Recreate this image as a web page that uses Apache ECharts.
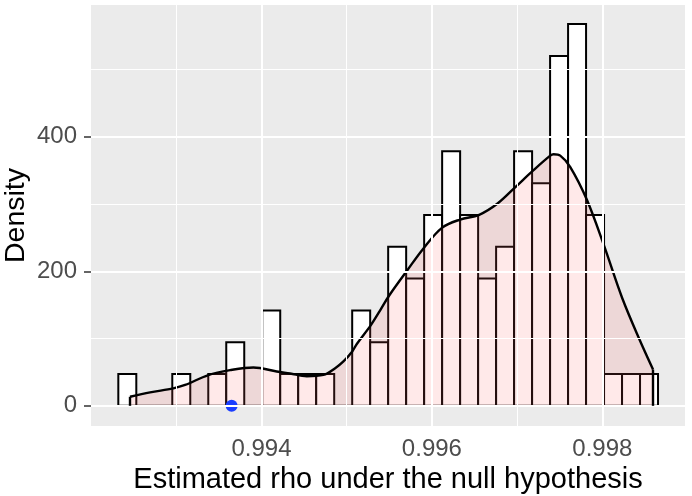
<!DOCTYPE html>
<html>
<head>
<meta charset="utf-8">
<script src="https://cdn.jsdelivr.net/npm/echarts@6/dist/echarts.min.js"></script>
<style>
  html, body { margin: 0; padding: 0; background: #ffffff; }
  #chart { width: 692px; height: 496px; }
</style>
</head>
<body>
<div id="chart"></div>
<script>
// ---- data ----
const xTicks = [0.994, 0.996, 0.998];
const xTickLabels = ['0.994', '0.996', '0.998'];
const xMinorGrid = [0.993, 0.995, 0.997];
const yTicks = [0, 200, 400];
const yTickLabels = ['0', '200', '400'];
const yMinorGrid = [100, 300, 500];

// histogram: 30 equal bins
const binStart = 0.9923205;
const binWidth = 0.0002111;
const histDensity = [47.3, 0, 0, 47.3, 0, 47.3, 94.6, 0, 141.9, 47.3,
                     47.3, 47.3, 0, 141.9, 94.6, 236.5, 189.2, 283.8, 378.4, 283.8,
                     189.2, 236.5, 378.4, 331.1, 520.3, 567.6, 283.8, 47.3, 47.3, 47.3];

// kernel density curve
const densX = [0.992458, 0.992693, 0.992966, 0.993104, 0.993377, 0.993632, 0.993905, 0.994180,
               0.994336, 0.994532, 0.994727, 0.994865, 0.994962, 0.995061, 0.995119, 0.995284,
               0.995393, 0.995499, 0.995714, 0.995901, 0.996121, 0.996332, 0.996555, 0.996763,
               0.996970, 0.997189, 0.997389, 0.997428, 0.997506, 0.997624, 0.997820, 0.998023,
               0.998234, 0.998445, 0.998595];
const densY = [13.5, 20, 26, 31, 45.8, 53, 57, 51,
               48, 44, 46, 56, 66, 80, 92, 120,
               142, 164, 202, 234, 265, 277, 284, 300,
               324, 350, 372, 374, 372, 355, 306, 237,
               160, 96, 54];

// observed value
const observedX = [0.99365];
const observedY = [0];

const xMin = 0.992, xMax = 0.99897;
const yMin = -30, yMax = 596;

// ---- build ----
const histData = histDensity.map((d, i) => [binStart + i * binWidth, binStart + (i + 1) * binWidth, d]);
const densData = densX.map((x, i) => [x, densY[i]]);
const obsData = observedX.map((x, i) => [x, observedY[i]]);

function vLine(v, w) { return [{ coord: [v, yMin], lineStyle: { width: w } }, { coord: [v, yMax] }]; }
function hLine(v, w) { return [{ coord: [xMin, v], lineStyle: { width: w } }, { coord: [xMax, v] }]; }
const gridLines = []
  .concat(xMinorGrid.map(v => vLine(v, 1)))
  .concat(yMinorGrid.map(v => hLine(v, 1)))
  .concat(xTicks.map(v => vLine(v, 2)))
  .concat(yTicks.map(v => hLine(v, 2)));

const FONT = "'Liberation Sans', Arial, Helvetica, sans-serif";

const chart = echarts.init(document.getElementById('chart'), null, { renderer: 'canvas' });
chart.setOption({
  animation: false,
  backgroundColor: '#ffffff',
  grid: {
    left: 91, right: 7, top: 5, bottom: 70,
    outerBoundsMode: 'none', containLabel: false,
    show: true, backgroundColor: '#EBEBEB', borderWidth: 0
  },
  xAxis: {
    type: 'value', min: xMin, max: xMax,
    name: 'Estimated rho under the null hypothesis',
    nameLocation: 'middle', nameGap: 39,
    nameTextStyle: { fontFamily: FONT, fontSize: 29, color: '#000000' },
    axisLine: { show: false },
    axisTick: { show: true, length: 7, customValues: xTicks, lineStyle: { color: '#333333', width: 1.5 } },
    axisLabel: {
      show: true, customValues: xTicks, margin: 11,
      fontFamily: FONT, fontSize: 24, color: '#4D4D4D',
      formatter: function (v) {
        for (let i = 0; i < xTicks.length; i++) if (Math.abs(v - xTicks[i]) < 1e-9) return xTickLabels[i];
        return '';
      }
    },
    splitLine: { show: false }
  },
  yAxis: {
    type: 'value', min: yMin, max: yMax,
    name: 'Density',
    nameLocation: 'middle', nameGap: 60, nameRotate: 90, nameMoveOverlap: false,
    nameTextStyle: { fontFamily: FONT, fontSize: 28.5, color: '#000000' },
    axisLine: { show: false },
    axisTick: { show: true, length: 7, customValues: yTicks, lineStyle: { color: '#333333', width: 1.5 } },
    axisLabel: {
      show: true, customValues: yTicks, margin: 14,
      fontFamily: FONT, fontSize: 24, color: '#4D4D4D',
      formatter: function (v) {
        for (let i = 0; i < yTicks.length; i++) if (Math.abs(v - yTicks[i]) < 1e-9) return yTickLabels[i];
        return '';
      }
    },
    splitLine: { show: false }
  },
  series: [
    {
      type: 'line', data: [], z: 1, silent: true,
      markLine: {
        silent: true, symbol: ['none', 'none'], label: { show: false },
        lineStyle: { color: '#ffffff', type: 'solid' },
        emphasis: { disabled: true },
        data: gridLines
      }
    },
    {
      type: 'custom', z: 2, silent: true, clip: true,
      data: histData,
      renderItem: function (params, api) {
        const p0 = api.coord([api.value(0), api.value(2)]);
        const p1 = api.coord([api.value(1), 0]);
        return {
          type: 'rect',
          shape: { x: p0[0], y: p0[1], width: p1[0] - p0[0], height: p1[1] - p0[1] },
          style: { fill: '#ffffff', stroke: '#000000', lineWidth: 2 }
        };
      }
    },
    {
      type: 'line', z: 3, silent: true,
      data: densData, smooth: 0.35, showSymbol: false, symbol: 'none',
      lineStyle: { color: '#000000', width: 2.4 },
      areaStyle: { color: 'rgba(255,102,102,0.2)', origin: 0 },
      markLine: {
        silent: true, symbol: ['none', 'none'], label: { show: false },
        lineStyle: { color: '#000000', width: 2.4, type: 'solid' },
        data: [
          [{ coord: [densX[0], 0] }, { coord: [densX[0], densY[0]] }],
          [{ coord: [densX[densX.length - 1], 0] }, { coord: [densX[densX.length - 1], densY[densY.length - 1]] }]
        ]
      }
    },
    {
      type: 'scatter', z: 4, silent: true,
      data: obsData, symbol: 'circle', symbolSize: 12,
      itemStyle: { color: '#1A3DFF', opacity: 1 }
    }
  ]
});
</script>
</body>
</html>
